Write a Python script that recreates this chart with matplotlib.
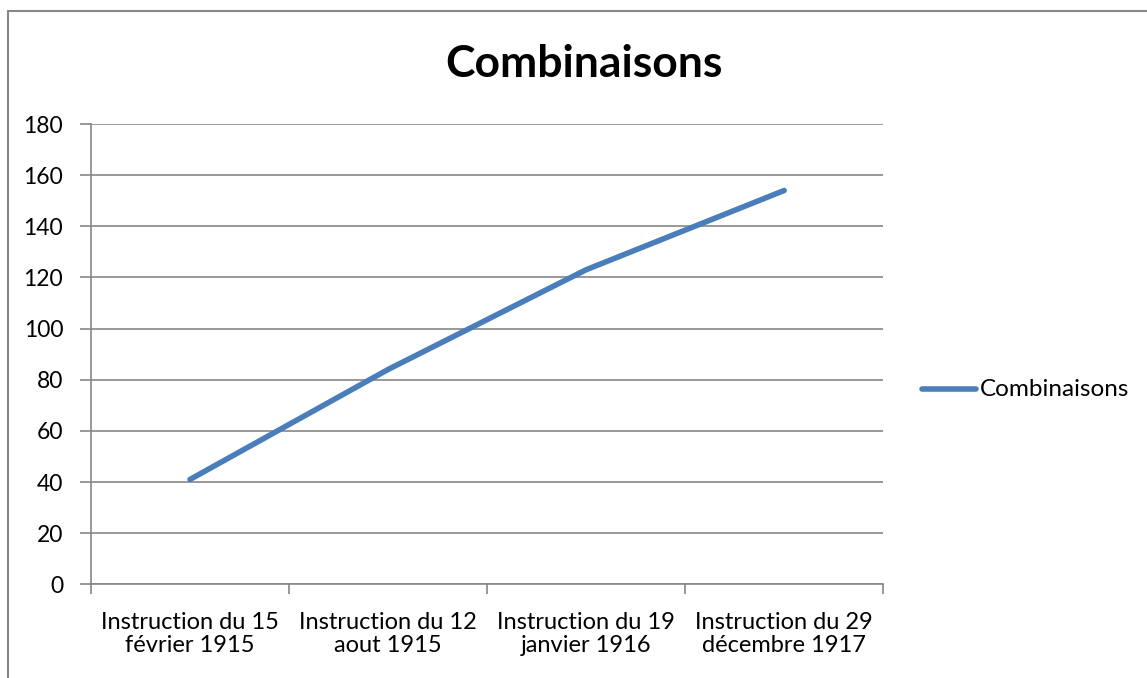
import matplotlib
matplotlib.use('Agg')
import matplotlib.pyplot as plt
from matplotlib.patches import Rectangle
from matplotlib.lines import Line2D

categories = ['Instruction du 15\nfévrier 1915', 'Instruction du 12\naout 1915',
              'Instruction du 19\njanvier 1916', 'Instruction du 29\ndécembre 1917']
values = [41, 84, 123, 154]
yticks = [0, 20, 40, 60, 80, 100, 120, 140, 160, 180]

plt.rcParams['font.family'] = ['Lato', 'DejaVu Sans']
grid_color = '#868686'
line_color = '#4a7ebb'

fig = plt.figure(figsize=(11.47, 6.78), dpi=100)
ax = fig.add_axes([0.0793, 0.1382, 0.6907, 0.6789])

x = list(range(len(categories)))
ax.plot(x, values, color=line_color, linewidth=4, solid_capstyle='round')

ax.set_xlim(-0.5, len(categories) - 0.5)
ax.set_ylim(0, 180)
ax.set_yticks(yticks)
ax.set_yticklabels([str(v) for v in yticks], fontsize=16.5)
ax.yaxis.grid(True, color=grid_color, linewidth=1.2)
ax.set_axisbelow(True)

ax.set_xticks(x)
ax.set_xticklabels(categories, fontsize=17, linespacing=1.1)
ax.set_xticks([i - 0.5 for i in range(len(categories) + 1)], minor=True)
ax.tick_params(axis='x', which='major', length=0, pad=20)
ax.tick_params(axis='x', which='minor', length=7, color=grid_color, width=1.2)
ax.tick_params(axis='y', length=8, color=grid_color, width=1.2, pad=12)

for s in ['top', 'right']:
    ax.spines[s].set_visible(False)
for s in ['left', 'bottom']:
    ax.spines[s].set_color(grid_color)
    ax.spines[s].set_linewidth(1.2)

fig.text(0.5 * (445 + 722) / 1147, 1 - 64 / 678, 'Combinaisons', fontsize=32,
         fontweight='bold', ha='center', va='center')

# legend
fig.add_artist(Line2D([922 / 1147, 976 / 1147], [1 - 389 / 678, 1 - 389 / 678],
                      color=line_color, linewidth=4, solid_capstyle='round'))
fig.text(980 / 1147, 1 - 389 / 678, 'Combinaisons', fontsize=17.5, ha='left', va='center')

# outer chart border
fig.add_artist(Rectangle((8 / 1147, -0.05), 1.2, 1 - 11 / 678 + 0.05,
                         transform=fig.transFigure, fill=False,
                         edgecolor=grid_color, linewidth=1.5))

fig.savefig('out.png', dpi=100)
